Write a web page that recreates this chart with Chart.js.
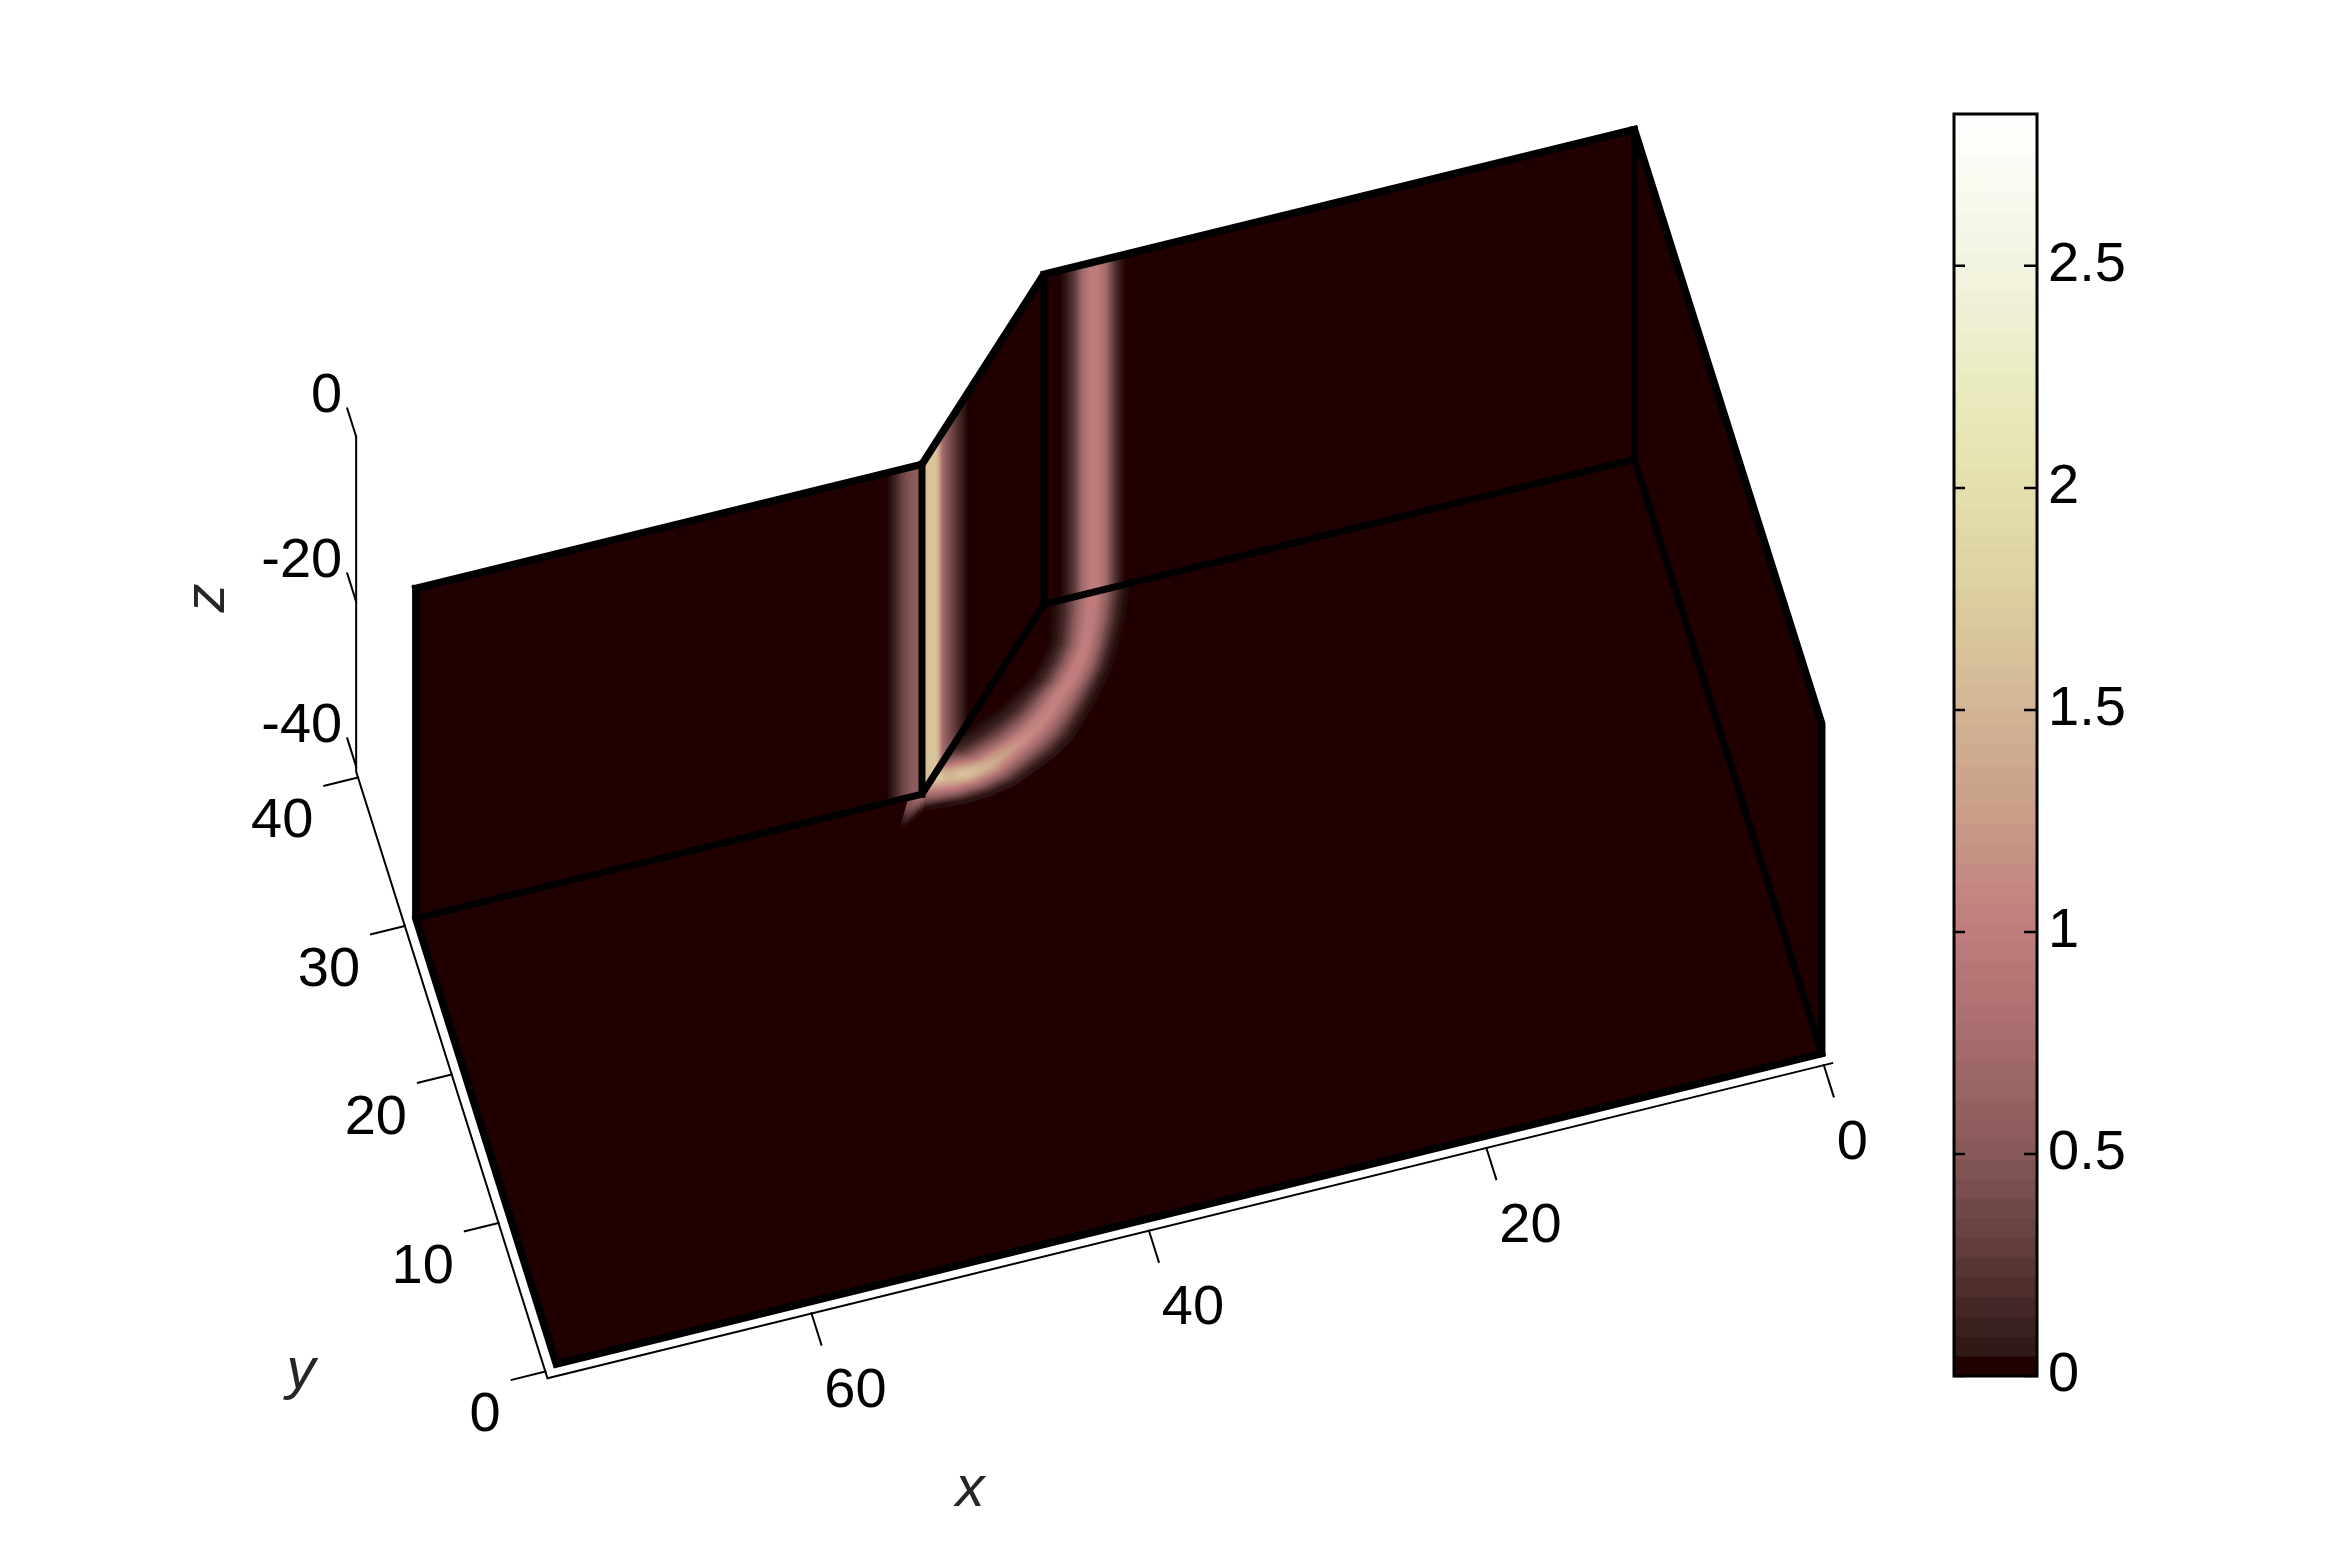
<!DOCTYPE html>
<html>
<head>
<meta charset="utf-8">
<title>Field on waveguide slices</title>
<script src="https://cdn.jsdelivr.net/npm/chart.js@4"></script>
<style>
  html, body { margin: 0; padding: 0; background: #fff; }
  canvas { position: absolute; }
</style>
</head>
<body>
<canvas id="myChart" width="2325" height="1550" style="left:0;top:0"></canvas>
<canvas id="myColorbar" width="425" height="1400" style="left:1900px;top:60px"></canvas>
<script>
// axis ticks
const xTicks = [0, 20, 40, 60];
const yTicks = [0, 10, 20, 30, 40];
const zTicks = [-40, -20, 0];
const cbarTicks = [0, 0.5, 1, 1.5, 2, 2.5];
const cbarMax = 2.842;

// outline of the structure on the floor, x and y
const outlineX = [75, 45, 35, 0];
const outlineY = [30, 30, 40, 40];
const zFloor = -40;
const zTop = 0;

// colour map: value and rgb
const mapValues = [0, 0.05, 0.25, 0.5, 0.75, 1, 1.25, 1.5, 1.75, 2, 2.25, 2.5, 2.842];
const mapColors = [
  [32, 0, 0], [44, 22, 20], [90, 55, 55], [135, 88, 88], [165, 108, 108], [192, 124, 124],
  [200, 155, 135], [210, 180, 148], [220, 205, 160], [228, 224, 172], [235, 235, 195], [243, 243, 225], [255, 255, 255]
];

// field across the three back walls, position along x and value
const leftWallX = [45, 45.3, 45.6, 45.9, 46.2, 46.5, 46.8, 47.1];
const leftWallV = [0.55, 0.55, 0.52, 0.44, 0.32, 0.18, 0.06, 0];
const kinkWallX = [45, 44.75, 44.34, 43.84, 43.6, 43.35, 43, 42.5, 42, 41.6, 41.2];
const kinkWallV = [1.35, 1.6, 1.68, 1.65, 1.35, 0.8, 0.55, 0.35, 0.18, 0.07, 0];
const rightWallX = [34.05, 33.6, 33.15, 32.75, 32.25, 31.8, 31.3, 30.95, 30.6, 30.15];
const rightWallV = [0, 0.1, 0.3, 0.7, 0.98, 0.98, 0.72, 0.35, 0.12, 0];

// field on the floor: inner and outer edge of the bend, station by station
const arcInnerX = [34.6, 35, 35.4, 36.3, 37.3, 38.4, 39.4, 40.4, 41.4, 42.2, 42.8, 43.7, 44.3, 44.8, 45.7];
const arcInnerY = [40, 38.7, 37.5, 36.4, 35.4, 34.8, 34.2, 33.8, 33.4, 33.1, 32.8, 32.2, 31.5, 30.5, 30];
const arcOuterX = [29.9, 30.8, 31.8, 32.4, 33, 33.9, 34.9, 35.8, 36.9, 38.2, 39.6, 41.1, 42.8, 45.2, 46.8];
const arcOuterY = [40, 37.9, 36, 35, 34.2, 33.1, 32, 31.1, 30.4, 29.8, 29.2, 28.9, 28.8, 29, 28.1];
const arcValues = [
  [0, 0.05, 0.18, 0.42, 0.75, 1, 0.98, 0.68, 0.34, 0.1, 0],
  [0, 0.05, 0.18, 0.42, 0.75, 1, 0.98, 0.7, 0.36, 0.12, 0],
  [0, 0.05, 0.18, 0.4, 0.72, 1, 1, 0.7, 0.36, 0.12, 0],
  [0, 0.04, 0.16, 0.38, 0.7, 1, 1.02, 0.75, 0.4, 0.13, 0],
  [0, 0.04, 0.14, 0.35, 0.68, 1, 1.04, 0.78, 0.42, 0.14, 0],
  [0, 0.04, 0.13, 0.33, 0.65, 1, 1.06, 0.8, 0.45, 0.16, 0],
  [0, 0.04, 0.12, 0.32, 0.62, 1, 1.08, 0.82, 0.48, 0.16, 0],
  [0, 0.04, 0.12, 0.32, 0.62, 1.02, 1.12, 0.85, 0.5, 0.18, 0],
  [0, 0.04, 0.12, 0.32, 0.62, 1.05, 1.2, 0.9, 0.52, 0.2, 0],
  [0, 0.05, 0.14, 0.36, 0.68, 1.15, 1.32, 1, 0.58, 0.22, 0],
  [0.02, 0.08, 0.2, 0.45, 0.85, 1.3, 1.5, 1.12, 0.64, 0.24, 0],
  [0.2, 0.4, 0.7, 1.1, 1.5, 1.72, 1.5, 1.05, 0.62, 0.24, 0],
  [0.9, 1.4, 1.8, 1.8, 1.55, 1.3, 1.05, 0.78, 0.48, 0.2, 0],
  [1.4, 1.3, 1.15, 1, 0.85, 0.7, 0.55, 0.4, 0.25, 0.1, 0],
  [0.6, 0.55, 0.5, 0.45, 0.4, 0.3, 0.22, 0.15, 0.08, 0.03, 0]
];

// view of the box, where the axes sit
const axisXMax = 75.65, axisXMin = -0.5, axisYMin = -0.45, axisYMax = 40.4, axisZMin = -40.6;
const FONT = '"Liberation Sans", Arial, sans-serif';
const INK = '#000';
const DARK = 'rgb(32,0,0)';

function view(x, y, z) {
  return {
    x: 1824 - 16.93 * x - 4.7 * y,
    y: 1055 + 4.16 * x - 14.93 * y - 8.29 * (z - zFloor)
  };
}

function colorOf(v) {
  let i = 0;
  while (i < mapValues.length - 2 && v > mapValues[i + 1]) i++;
  const t = Math.min(1, Math.max(0, (v - mapValues[i]) / (mapValues[i + 1] - mapValues[i])));
  const c = mapColors[i].map((a, k) => Math.round(a + (mapColors[i + 1][k] - a) * t));
  return 'rgb(' + c.join(',') + ')';
}

function gradientFrom(chart, a, b, stops, vals) {
  if (!chart.chartArea) return DARK;
  const sx = chart.scales.x, sy = chart.scales.y;
  const g = chart.ctx.createLinearGradient(
    sx.getPixelForValue(a.x), sy.getPixelForValue(a.y),
    sx.getPixelForValue(b.x), sy.getPixelForValue(b.y)
  );
  stops.forEach((s, i) => g.addColorStop(Math.min(1, Math.max(0, s)), colorOf(vals[i])));
  return g;
}

function face(points, fillStyle) {
  return {
    data: points,
    showLine: true,
    fill: 'shape',
    backgroundColor: fillStyle,
    borderColor: 'rgba(0,0,0,0)',
    borderWidth: 0,
    pointRadius: 0,
    tension: 0
  };
}

function line(points, width, color) {
  return {
    data: points,
    showLine: true,
    fill: false,
    borderColor: color || INK,
    borderWidth: width,
    borderCapStyle: 'square',
    pointRadius: 0,
    tension: 0
  };
}

// band on a vertical wall, the gradient only runs sideways on screen
function wallBand(xs, vals, yOf) {
  const a = view(xs[0], yOf(xs[0]), zFloor);
  const b = view(xs[xs.length - 1], yOf(xs[xs.length - 1]), zFloor);
  const pts = [
    view(xs[0], yOf(xs[0]), zTop),
    view(xs[xs.length - 1], yOf(xs[xs.length - 1]), zTop),
    b,
    a,
    view(xs[0], yOf(xs[0]), zTop)
  ];
  const stops = xs.map(x => (view(x, yOf(x), zFloor).x - a.x) / (b.x - a.x));
  return face(pts, c => gradientFrom(c.chart, { x: a.x, y: 0 }, { x: b.x, y: 0 }, stops, vals));
}

// bend on the floor as shaded cells, like interpolated shading between the stations
function arcCells() {
  const pts = [], colors = [];
  const nAlong = 14, nAcross = 44;
  for (let i = 0; i < arcValues.length - 1; i++) {
    for (let a = 0; a < nAlong; a++) {
      const s = a / nAlong;
      const ix = arcInnerX[i] + (arcInnerX[i + 1] - arcInnerX[i]) * s;
      const iy = arcInnerY[i] + (arcInnerY[i + 1] - arcInnerY[i]) * s;
      const ox = arcOuterX[i] + (arcOuterX[i + 1] - arcOuterX[i]) * s;
      const oy = arcOuterY[i] + (arcOuterY[i + 1] - arcOuterY[i]) * s;
      for (let b = 0; b <= nAcross; b++) {
        const t = b / nAcross * (arcValues[i].length - 1);
        const k = Math.min(Math.floor(t), arcValues[i].length - 2);
        const f = t - k;
        const v0 = arcValues[i][k] + (arcValues[i][k + 1] - arcValues[i][k]) * f;
        const v1 = arcValues[i + 1][k] + (arcValues[i + 1][k + 1] - arcValues[i + 1][k]) * f;
        const v = v0 + (v1 - v0) * s;
        if (v < 0.01) continue;
        const w = b / nAcross;
        pts.push(view(ix + (ox - ix) * w, iy + (oy - iy) * w, zFloor));
        colors.push(colorOf(v));
      }
    }
  }
  return {
    data: pts,
    showLine: false,
    pointStyle: 'rect',
    pointRadius: 2.6,
    pointBorderWidth: 0,
    pointBackgroundColor: colors
  };
}

const layers = [];
const floorPts = outlineX.map((x, i) => view(x, outlineY[i], zFloor));
const topPts = outlineX.map((x, i) => view(x, outlineY[i], zTop));

// floor, then the bend, then the walls over it
layers.push(face([view(75, 0, zFloor), ...floorPts, view(0, 0, zFloor), view(75, 0, zFloor)], DARK));
layers.push(arcCells());
layers.push(face([...topPts, ...floorPts.slice().reverse(), topPts[0]], DARK));
layers.push(face([view(0, 40, zTop), view(0, 0, zTop), view(0, 0, zFloor), view(0, 40, zFloor), view(0, 40, zTop)], DARK));

// bands on the walls
layers.push(wallBand(leftWallX, leftWallV, () => 30));
layers.push(wallBand(kinkWallX, kinkWallV, x => 30 + (45 - x)));
layers.push(wallBand(rightWallX, rightWallV, () => 40));

// thick edges of the structure
layers.push(line([...topPts, view(0, 0, zTop), view(0, 0, zFloor), view(75, 0, zFloor), floorPts[0], topPts[0]], 7.5));
layers.push(line([...floorPts, view(0, 0, zFloor)], 7));
outlineX.slice(1).forEach((x, i) => layers.push(line([topPts[i + 1], floorPts[i + 1]], 7)));

// axis lines and tick marks
layers.push(line([view(axisXMin, axisYMin, axisZMin), view(axisXMax, axisYMin, axisZMin), view(axisXMax, axisYMax, axisZMin), view(axisXMax, axisYMax, zTop)], 2));
xTicks.forEach(t => layers.push(line([view(t, axisYMin, axisZMin), view(t, axisYMin - 2.1, axisZMin)], 2)));
yTicks.forEach(t => layers.push(line([view(axisXMax, t, axisZMin), view(axisXMax + 2, t, axisZMin)], 2)));
zTicks.forEach(t => layers.push(line([view(axisXMax, axisYMax, t), view(axisXMax, axisYMax + 1.9, t)], 2)));

const axisText = {
  id: 'axisText',
  afterDraw(chart) {
    const { ctx, scales } = chart;
    const put = (txt, p, dx, dy, align) => {
      ctx.textAlign = align;
      ctx.fillText(txt, scales.x.getPixelForValue(p.x) + dx, scales.y.getPixelForValue(p.y) + dy);
    };
    ctx.save();
    ctx.fillStyle = INK;
    ctx.textBaseline = 'middle';
    ctx.font = '56px ' + FONT;
    xTicks.forEach(t => put(String(t), view(t, axisYMin - 2.1, axisZMin), 3, 47, 'left'));
    yTicks.forEach(t => put(String(t), view(axisXMax + 2, t, axisZMin), -11, 36, 'right'));
    zTicks.forEach(t => put(String(t), view(axisXMax, axisYMax + 1.9, t), -5, -12, 'right'));
    ctx.fillStyle = '#262626';
    ctx.font = 'italic 58px ' + FONT;
    ctx.textAlign = 'center';
    ctx.fillText('x', 970, 1490);
    ctx.fillText('y', 301, 1372);
    ctx.translate(208, 598);
    ctx.rotate(-Math.PI / 2);
    ctx.fillText('z', 0, 0);
    ctx.restore();
  }
};

new Chart(document.getElementById('myChart'), {
  type: 'scatter',
  data: { datasets: layers.reverse() },
  options: {
    responsive: false,
    animation: false,
    layout: { padding: 0 },
    plugins: { legend: { display: false }, tooltip: { enabled: false } },
    scales: {
      x: { type: 'linear', display: false, min: 0, max: 2325 },
      y: { type: 'linear', display: false, min: 0, max: 1550, reverse: true }
    }
  },
  plugins: [axisText]
});

// colour bar, 64 steps painted from the bottom up
const cbarLevels = Array.from({ length: 64 }, (_, i) => i * cbarMax / 64);

const cbarFrame = {
  id: 'cbarFrame',
  afterDraw(chart) {
    const { ctx, chartArea: a, scales } = chart;
    ctx.save();
    ctx.strokeStyle = INK;
    ctx.lineWidth = 3;
    ctx.strokeRect(a.left, a.top, a.right - a.left, a.bottom - a.top);
    ctx.lineWidth = 2.5;
    cbarTicks.forEach(t => {
      const y = scales.y.getPixelForValue(t);
      ctx.beginPath();
      ctx.moveTo(a.left, y); ctx.lineTo(a.left + 11, y);
      ctx.moveTo(a.right, y); ctx.lineTo(a.right - 13, y);
      ctx.stroke();
    });
    ctx.restore();
  }
};

new Chart(document.getElementById('myColorbar'), {
  type: 'bar',
  data: {
    labels: [''],
    datasets: cbarLevels.map((lo, i) => ({
      data: [[lo, cbarMax]],
      backgroundColor: colorOf(lo + cbarMax / 128 * (i ? 1 : 0)),
      borderWidth: 0,
      order: 64 - i
    }))
  },
  options: {
    responsive: false,
    animation: false,
    layout: { padding: { left: 54, top: 54, bottom: 84, right: 0 } },
    plugins: { legend: { display: false }, tooltip: { enabled: false } },
    datasets: { bar: { grouped: false, barPercentage: 1, categoryPercentage: 1 } },
    scales: {
      x: { display: false },
      y: {
        position: 'right',
        min: 0,
        max: cbarMax,
        grid: { display: false },
        border: { display: false },
        afterBuildTicks: axis => { axis.ticks = cbarTicks.map(v => ({ value: v })); },
        afterFit: axis => { axis.width = 288; },
        ticks: {
          autoSkip: false,
          padding: 3,
          color: INK,
          font: { family: FONT, size: 56 },
          callback: v => String(v)
        }
      }
    }
  },
  plugins: [cbarFrame]
});
</script>
</body>
</html>
